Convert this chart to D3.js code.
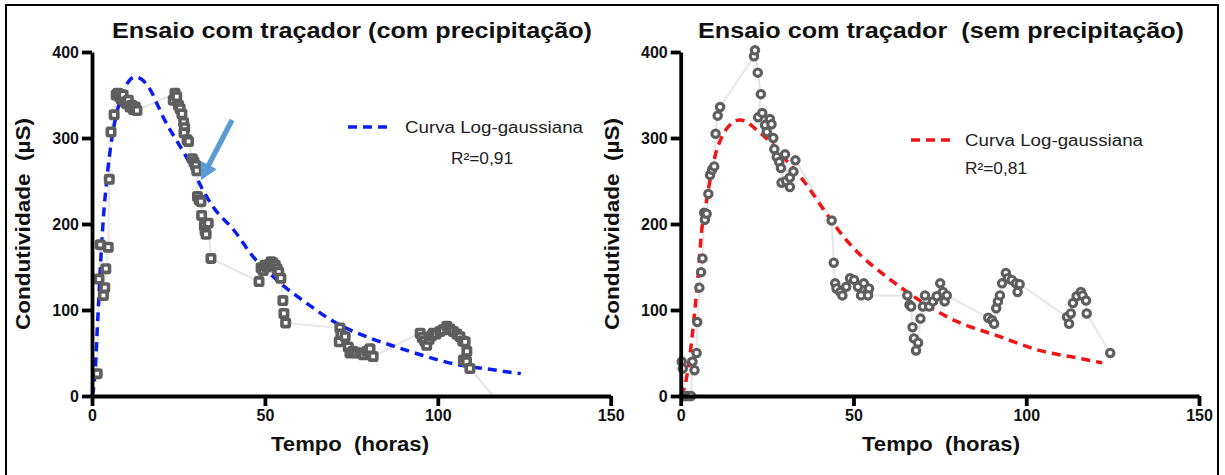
<!DOCTYPE html>
<html>
<head>
<meta charset="utf-8">
<script src="https://cdn.jsdelivr.net/npm/d3@7"></script>
<style>
  body { margin: 0; background: #fff; }
  text { font-family: "Liberation Sans", Arial, sans-serif; }
</style>
</head>
<body>
<div id="chart"></div>
<script>
// measured points, left panel (com precipitação) - [tempo (h), condutividade (µS)]
var comTime = [1.5, 2.0, 2.4, 3.3, 3.7, 4.0, 4.7, 5.0, 5.5, 6.4, 7.0, 7.5, 8.0, 8.5, 9.0, 9.5, 10.0, 10.5, 11.0, 11.5, 12.0, 12.5, 13.0,
  24.0, 23.5, 24.5, 25.0, 25.5, 26.0, 26.5, 26.8, 26.6, 27.5, 27.9, 29.0, 29.5, 30.0, 30.3, 30.5, 31.0, 31.5, 31.7, 32.5, 32.7, 33.0, 33.6, 34.4,
  48.3, 48.9, 49.5, 50.0, 50.5, 51.2, 51.8, 52.3, 53.0, 53.5, 54.0, 54.6, 55.2, 55.5, 56.0,
  71.7, 72.0, 71.5, 73.2, 74.1, 74.6, 75.5, 76.5, 77.5, 78.5, 79.5, 80.4, 81.3,
  94.9, 95.5, 96.2, 96.8, 97.5, 98.2, 98.7, 99.5, 100.6, 101.5, 102.6, 103.5, 104.5, 105.5, 106.4, 107.2, 107.9, 108.4, 107.4, 108.3, 109.3];
var comCond = [26, 136, 176, 117, 126, 148, 173, 252, 307, 327, 350, 352, 348, 345, 350, 342, 340, 344, 336, 338, 333, 336, 332,
  352, 344, 348, 338, 334, 328, 318, 312, 306, 298, 296, 276, 272, 268, 262, 232, 228, 226, 210, 198, 192, 188, 201, 160,
  133, 149, 146, 152, 150, 153, 156, 155, 152, 148, 144, 137, 111, 96, 85,
  79, 72, 63, 69, 57, 50, 52, 50, 50, 48, 52, 55, 46,
  73, 68, 64, 59, 66, 70, 73, 72, 75, 77, 81, 78, 75, 72, 69, 64, 63, 52, 42, 40, 32];
var comTailTime = [109.3, 116];   // gray line runs down to the axis after the last marker
var comTailCond = [32, 0];

// right panel (sem precipitação)
var semTime = [0.3, 0.6, 1.0, 1.5, 2.0, 2.5, 3.0, 3.4, 4.0, 4.6, 4.8, 5.4, 5.9, 6.3, 6.8, 7.0, 7.5, 8.0, 8.5, 9.1, 9.7, 10.1, 10.7, 11.4,
  21.2, 21.5, 22.3, 23.2, 22.4, 23.6, 24.4, 24.9, 25.8, 26.3, 26.8, 27.1, 27.8, 28.5, 29.0, 29.2, 30.2, 30.5, 31.6, 31.6, 32.6, 33.2,
  43.7, 44.3, 44.7, 45.1, 46.2, 46.8, 47.9, 49.0, 50.2, 51.3, 52.2, 53.0, 54.2, 54.5, 54.2,
  65.6, 66.2, 66.7, 67.1, 67.5, 68.1, 68.7, 69.4, 70.1, 70.7, 71.9, 73.0, 74.1, 75.1, 75.9, 76.4, 77.0,
  89.0, 90.1, 90.7, 91.3, 91.8, 92.4, 93.0, 94.1, 94.7, 95.8, 97.0, 97.5, 98.1,
  111.8, 112.4, 112.9, 113.5, 114.6, 115.8, 116.3, 117.3, 117.5, 124.3];
var semCond = [40, 32, 0, 0, 0, 0, 0, 40, 30, 50, 86, 126, 144, 160, 213, 205, 212, 235, 257, 263, 267, 305, 326, 336,
  395, 402, 376, 351, 324, 329, 315, 307, 322, 316, 300, 287, 278, 272, 265, 248, 281, 250, 254, 243, 261, 274,
  204, 155, 131, 125, 121, 117, 127, 137, 135, 127, 117, 131, 121, 125, 117,
  117, 106, 104, 80, 67, 53, 62, 90, 104, 117, 104, 110, 116, 131, 121, 110, 117,
  91, 88, 84, 102, 110, 117, 131, 143, 137, 135, 131, 121, 130,
  92, 84, 96, 108, 116, 121, 117, 111, 96, 50];

// log-gaussian fits
var fitComTime = [0, 0.5, 1, 1.5, 2, 2.5, 3, 3.5, 4, 5, 6, 7, 8, 10, 12.5, 15, 17, 19, 21, 24, 27, 30, 32, 35, 41, 47, 50, 56, 60, 71, 80, 88, 95, 105, 115, 124];
var fitComCond = [0, 10, 35, 76, 115, 155, 190, 218, 240, 278, 306, 326, 342, 362, 371, 366, 355, 338, 321, 300, 280, 256, 240, 220, 193, 160, 148, 126, 114, 84, 68, 57, 48, 37, 31, 26];
var fitSemTime = [0, 1.1, 2.6, 4, 5.1, 6, 7, 8, 9, 10, 12, 14, 17, 19, 21.5, 26.3, 31.6, 36.9, 40.8, 47, 52.5, 58.2, 69.6, 77.6, 92.4, 103.8, 115.2, 122];
var fitSemCond = [0, 10, 45, 96, 143, 190, 215, 240, 262, 280, 302, 314, 321, 319, 311, 294, 269, 243, 220, 186, 162, 143, 110, 91, 69, 53, 44, 38.5];

var xTicks = [0, 50, 100, 150];
var yTicks = [0, 100, 200, 300, 400];

var width = 1225, height = 475;
var svg = d3.select("#chart").append("svg")
  .attr("width", width)
  .attr("height", height);

// outer frame
svg.append("rect")
  .attr("x", 6).attr("y", 5)
  .attr("width", 1212).attr("height", 472)
  .attr("fill", "none").attr("stroke", "#000").attr("stroke-width", 2);

function zip(a, b) { return a.map(function(d, i) { return [d, b[i]]; }); }

// the original figure is stretched sideways, so texts get a fixed length
function stretched(sel, len) {
  return sel.attr("textLength", len).attr("lengthAdjust", "spacingAndGlyphs");
}

function drawPanel(opt) {
  var x = d3.scaleLinear().domain([0, 150]).range([opt.left, opt.right]);
  var y = d3.scaleLinear().domain([0, 400]).range([396, 52]);
  var g = svg.append("g");

  // title
  g.append("text")
    .attr("x", opt.titleX).attr("y", 38)
    .attr("text-anchor", "middle")
    .attr("font-size", 22).attr("font-weight", "bold")
    .attr("fill", "#111")
    .attr("xml:space", "preserve")
    .text(opt.title)
    .call(stretched, opt.titleLen);

  var line = d3.line().x(function(d) { return x(d[0]); }).y(function(d) { return y(d[1]); });

  // light connecting line through the measurements
  var pts = zip(opt.time, opt.cond);
  var conn = opt.tailTime ? pts.concat(zip(opt.tailTime, opt.tailCond).slice(1)) : pts;
  g.append("path")
    .attr("d", line(conn))
    .attr("fill", "none").attr("stroke", "#e6e6e6").attr("stroke-width", 2);

  // fitted curve
  g.append("path")
    .attr("d", d3.line().curve(d3.curveMonotoneX)
      .x(function(d) { return x(d[0]); }).y(function(d) { return y(d[1]); })(zip(opt.fitTime, opt.fitCond)))
    .attr("fill", "none").attr("stroke", opt.fitColor).attr("stroke-width", 3.5)
    .attr("stroke-dasharray", "9,6");

  // markers
  var mk = g.append("g");
  if (opt.square) {
    mk.selectAll("rect").data(pts).enter().append("rect")
      .attr("x", function(d) { return x(d[0]) - 3.7; })
      .attr("y", function(d) { return y(d[1]) - 3.7; })
      .attr("width", 7.4).attr("height", 7.4).attr("rx", 1)
      .attr("fill", "#fff").attr("stroke", "#5e5e5e").attr("stroke-width", 3.6);
  } else {
    mk.selectAll("circle").data(pts).enter().append("circle")
      .attr("cx", function(d) { return x(d[0]); })
      .attr("cy", function(d) { return y(d[1]); })
      .attr("r", 3.7)
      .attr("fill", "#fff").attr("stroke", "#5e5e5e").attr("stroke-width", 3.1);
  }

  // axes
  var axisStyle = function(sel) {
    sel.select(".domain").attr("stroke", "#000").attr("stroke-width", 3.8);
    sel.selectAll(".tick line").attr("stroke", "#000").attr("stroke-width", 3.8);
    sel.selectAll(".tick text").attr("font-size", 16).attr("font-weight", "bold")
      .attr("fill", "#111").attr("font-family", "Liberation Sans, Arial, sans-serif");
  };
  g.append("g")
    .attr("transform", "translate(0,396)")
    .call(d3.axisBottom(x).tickValues(xTicks).tickSize(10).tickSizeOuter(0).tickPadding(4))
    .call(axisStyle);
  g.append("g")
    .attr("transform", "translate(" + opt.left + ",0)")
    .call(d3.axisLeft(y).tickValues(yTicks).tickSize(10).tickSizeOuter(0).tickPadding(3))
    .call(axisStyle);

  // axis titles
  g.append("text")
    .attr("x", opt.xTitleX).attr("y", 451)
    .attr("text-anchor", "middle")
    .attr("font-size", 21).attr("font-weight", "bold").attr("fill", "#111")
    .attr("xml:space", "preserve")
    .text("Tempo  (horas)")
    .call(stretched, 158);
  g.append("text")
    .attr("transform", "translate(" + opt.yTitleX + ",224) rotate(-90)")
    .attr("text-anchor", "middle")
    .attr("font-size", 21).attr("font-weight", "bold").attr("fill", "#111")
    .attr("xml:space", "preserve")
    .text("Condutividade  (µS)")
    .call(stretched, 212);

  // legend
  g.append("line")
    .attr("x1", opt.legX1).attr("x2", opt.legX2)
    .attr("y1", opt.legY).attr("y2", opt.legY)
    .attr("stroke", opt.fitColor).attr("stroke-width", 3.5)
    .attr("stroke-dasharray", "9,6");
  g.append("text")
    .attr("x", opt.legTextX).attr("y", opt.legY + 6)
    .attr("font-size", 16).attr("fill", "#222")
    .text("Curva Log-gaussiana")
    .call(stretched, 178);
  g.append("text")
    .attr("x", opt.r2X).attr("y", opt.r2Y)
    .attr("font-size", 16).attr("fill", "#222")
    .text(opt.r2)
    .call(stretched, 62);

  return { x: x, y: y, g: g };
}

var left = drawPanel({
  left: 92, right: 610.7, title: "Ensaio com traçador (com precipitação)", titleX: 352, titleLen: 480,
  time: comTime, cond: comCond, tailTime: comTailTime, tailCond: comTailCond,
  fitTime: fitComTime, fitCond: fitComCond, fitColor: "#0a1ef0", square: true,
  xTitleX: 350, yTitleX: 30,
  legX1: 348, legX2: 388, legY: 127, legTextX: 405, r2X: 451, r2Y: 164, r2: "R²=0,91"
});

drawPanel({
  left: 680.7, right: 1199, title: "Ensaio com traçador  (sem precipitação)", titleX: 941, titleLen: 486,
  time: semTime, cond: semCond,
  fitTime: fitSemTime, fitCond: fitSemCond, fitColor: "#f01414", square: false,
  xTitleX: 941, yTitleX: 619,
  legX1: 911, legX2: 951, legY: 140, legTextX: 965, r2X: 965, r2Y: 174, r2: "R²=0,81"
});

// blue arrow pointing at the fit in the left panel
var ax = left.x, ay = left.y;
var tail = [ax(40.5), ay(321)], tip = [ax(31.5), ay(251)];
var ang = Math.atan2(tip[1] - tail[1], tip[0] - tail[0]);
var headLen = 17, headW = 9, shaftW = 2.6;
function pt(base, along, across) {
  return [base[0] + along * Math.cos(ang) - across * Math.sin(ang),
          base[1] + along * Math.sin(ang) + across * Math.cos(ang)];
}
var neck = pt(tip, -headLen, 0);
var arrowPts = [pt(tail, 0, -shaftW), pt(neck, 0, -shaftW), pt(neck, 0, -headW), tip,
  pt(neck, 0, headW), pt(neck, 0, shaftW), pt(tail, 0, shaftW)];
left.g.append("path")
  .attr("d", "M" + arrowPts.map(function(p) { return p.join(","); }).join("L") + "Z")
  .attr("fill", "#5b9bd5");
</script>
</body>
</html>
